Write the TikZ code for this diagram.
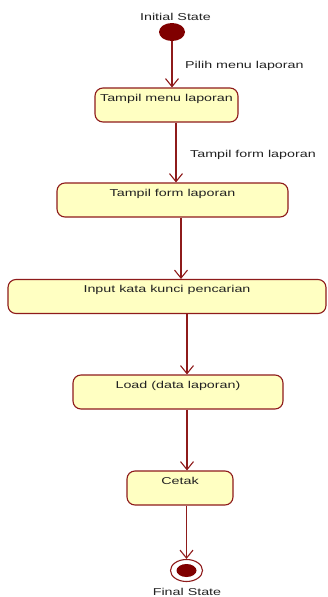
\documentclass[tikz,border=0pt]{standalone}
\usepackage{fontspec}
\setmainfont{Liberation Sans}
\usepackage{graphicx}
\usetikzlibrary{arrows.meta,shapes.geometric}
\definecolor{umlline}{HTML}{8E1B1B}
\definecolor{umlfill}{HTML}{FFFFC2}
\definecolor{umldot}{HTML}{800000}
\definecolor{umltext}{HTML}{222222}
% UML tool text is rendered wide and light
\newcommand\widetext[1]{\scalebox{1.43}[1]{#1}}

\begin{document}
\begin{tikzpicture}[x=1pt,y=-1pt,
  font=\fontsize{10}{12}\selectfont, text=umltext,
  activity/.style={draw=umlline, fill=umlfill, line width=1.1pt,
    rounded corners=8pt, inner sep=0pt, text height=13pt, text depth=21pt},
  flow/.style={draw=umlline, line width=1.1pt,
    -{Straight Barb[length=8pt,width=13pt]}},
  caption/.style={inner sep=0pt}]

\useasboundingbox (0,0) rectangle (327,597);

% start and end pseudo-states
\node[ellipse, fill=umldot, minimum width=26pt, minimum height=18pt, inner sep=0pt] (init) at (172,32) {};
\node[caption, anchor=base] (initlbl) at (175.5,20) {\widetext{Initial State}};

\node[ellipse, draw=umlline, line width=1.1pt, fill=white, minimum width=32pt, minimum height=22pt, inner sep=0pt] (fin) at (186.5,570.5) {};
\node[ellipse, fill=umldot, minimum width=20pt, minimum height=13pt, inner sep=0pt] (finin) at (fin.center) {};
\node[caption, anchor=base] (finlbl) at (187,595.5) {\widetext{Final State}};

% activities
\node[activity, minimum width=143pt] (b1) at (166.5,105) {\widetext{Tampil menu laporan}};
\node[activity, minimum width=231pt] (b2) at (172.5,200) {\widetext{Tampil form laporan}};
\node[activity, minimum width=318pt] (b3) at (167,296.5) {\widetext{Input kata kunci pencarian}};
\node[activity, minimum width=210pt] (b4) at (178,392) {\widetext{Load (data laporan)}};
\node[activity, minimum width=106pt] (b5) at (180,488) {\widetext{Cetak}};

% transitions
\draw[flow] (init.south) -- (init.south |- b1.north);
\draw[flow] ([xshift=9.5pt]b1.south) -- ([xshift=9.5pt]b1.south |- b2.north);
\draw[flow] ([xshift=8.5pt]b2.south) -- ([xshift=8.5pt]b2.south |- b3.north);
\draw[flow] ([xshift=20pt]b3.south) -- ([xshift=20pt]b3.south |- b4.north);
\draw[flow] ([xshift=9pt]b4.south) -- ([xshift=9pt]b4.south |- b5.north);
\draw[flow] (b5.south -| fin) -- (fin.north);

% transition labels
\node[caption, anchor=base west] (t1) at (185,68.5) {\widetext{Pilih menu laporan}};
\node[caption, anchor=base west] (t2) at (190,157) {\widetext{Tampil form laporan}};
\end{tikzpicture}
\end{document}
